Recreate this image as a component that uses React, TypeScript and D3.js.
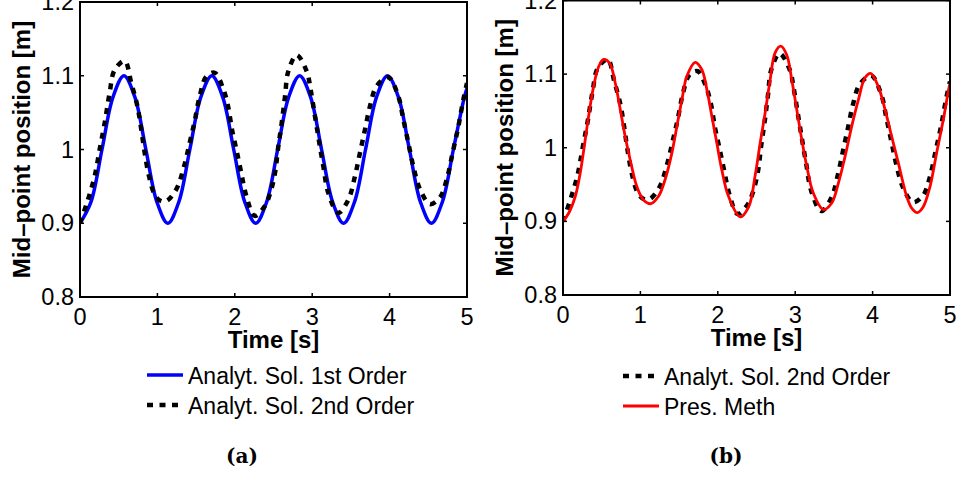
import React from "react";
import * as d3 from "d3";

// ---------- data ----------
const xTicks = [0, 1, 2, 3, 4, 5];
const yTicks = [0.8, 0.9, 1.0, 1.1, 1.2];
const yTickLabels = ["0.8", "0.9", "1", "1.1", "1.2"];

const firstOrderT = [0, 0.142, 0.284, 0.426, 0.568, 0.709, 0.851, 0.993, 1.135, 1.277, 1.419, 1.561, 1.703, 1.844, 1.986, 2.128, 2.27, 2.412, 2.554, 2.696, 2.838, 2.979, 3.121, 3.263, 3.405, 3.547, 3.689, 3.831, 3.973, 4.114, 4.256, 4.398, 4.54, 4.682, 4.824, 4.966, 5.0];
const firstOrderV = [0.9, 0.929, 1.0, 1.071, 1.1, 1.071, 1.0, 0.929, 0.9, 0.929, 1.0, 1.071, 1.1, 1.071, 1.0, 0.929, 0.9, 0.929, 1.0, 1.071, 1.1, 1.071, 1.0, 0.929, 0.9, 0.929, 1.0, 1.071, 1.1, 1.071, 1.0, 0.929, 0.9, 0.929, 1.0, 1.071, 1.083];

const secondOrderT = [0, 0.103, 0.19, 0.254, 0.319, 0.383, 0.448, 0.577, 0.663, 0.741, 0.792, 0.835, 0.891, 0.956, 1.03, 1.115, 1.244, 1.344, 1.417, 1.481, 1.546, 1.632, 1.74, 1.848, 1.912, 1.964, 2.02, 2.084, 2.149, 2.257, 2.386, 2.455, 2.519, 2.562, 2.606, 2.649, 2.691, 2.8, 2.929, 2.98, 3.036, 3.092, 3.144, 3.208, 3.337, 3.467, 3.553, 3.618, 3.682, 3.747, 3.833, 3.983, 4.113, 4.177, 4.242, 4.307, 4.393, 4.522, 4.651, 4.737, 4.815, 4.888, 4.953, 5.0];
const secondOrderV = [0.9, 0.932, 0.964, 1.0, 1.036, 1.077, 1.108, 1.12, 1.09, 1.059, 1.027, 0.996, 0.964, 0.941, 0.931, 0.93, 0.946, 0.977, 1.009, 1.038, 1.072, 1.099, 1.104, 1.083, 1.059, 1.027, 1.0, 0.968, 0.937, 0.91, 0.923, 0.94, 0.968, 1.004, 1.036, 1.072, 1.106, 1.128, 1.106, 1.081, 1.045, 1.009, 0.977, 0.941, 0.914, 0.932, 0.964, 0.996, 1.027, 1.059, 1.086, 1.098, 1.072, 1.041, 1.009, 0.977, 0.946, 0.926, 0.935, 0.959, 0.996, 1.031, 1.068, 1.09];

const presMethT = [0, 0.073, 0.159, 0.223, 0.275, 0.331, 0.395, 0.46, 0.524, 0.602, 0.675, 0.74, 0.804, 0.878, 0.955, 1.04, 1.135, 1.234, 1.32, 1.407, 1.471, 1.536, 1.6, 1.708, 1.794, 1.859, 1.923, 1.988, 2.052, 2.138, 2.289, 2.4, 2.482, 2.547, 2.611, 2.676, 2.74, 2.814, 2.891, 2.956, 3.02, 3.085, 3.149, 3.235, 3.364, 3.472, 3.558, 3.644, 3.73, 3.816, 3.902, 3.975, 4.074, 4.16, 4.247, 4.333, 4.406, 4.44, 4.505, 4.577, 4.655, 4.741, 4.827, 4.913, 4.986, 5.0];
const presMethV = [0.9, 0.911, 0.934, 0.966, 1.002, 1.043, 1.083, 1.11, 1.12, 1.115, 1.088, 1.052, 1.015, 0.979, 0.947, 0.929, 0.924, 0.934, 0.957, 0.993, 1.029, 1.065, 1.097, 1.116, 1.106, 1.079, 1.043, 1.006, 0.97, 0.934, 0.906, 0.92, 0.962, 1.006, 1.047, 1.092, 1.129, 1.138, 1.126, 1.092, 1.052, 1.011, 0.975, 0.938, 0.916, 0.925, 0.952, 0.988, 1.029, 1.065, 1.095, 1.101, 1.083, 1.052, 1.015, 0.979, 0.947, 0.934, 0.918, 0.912, 0.92, 0.947, 0.993, 1.038, 1.081, 1.087];

const legendA = ["Analyt. Sol. 1st Order", "Analyt. Sol. 2nd Order"];
const legendB = ["Analyt. Sol. 2nd Order", "Pres. Meth"];
const xLabel = "Time [s]";
const yLabel = "Mid\u2013point position [m]";

// ---------- styling ----------
const FONT = "'Liberation Sans', Arial, sans-serif";
const SERIF = "'DejaVu Serif', serif";
const DOT = "6 6.5";

type Series = { t: number[]; v: number[]; color: string; width: number; dash?: string };

function Panel(props: {
  id: string;
  x0: number; x1: number; y0: number; y1: number;
  series: Series[];
  legend: string[];
  legendX: number; legendY: number[];
  labelX: number; xLabelY: number;
  caption: string; captionX: number;
}) {
  const { id, x0, x1, y0, y1, series } = props;
  const x = d3.scaleLinear().domain([0, 5]).range([x0, x1]);
  const y = d3.scaleLinear().domain([0.8, 1.2]).range([y1, y0]);
  const line = d3
    .line<[number, number]>()
    .x((d) => x(d[0]))
    .y((d) => y(d[1]))
    .curve(d3.curveCatmullRom.alpha(0.5));
  const tick = 4;
  const yMid = (y0 + y1) / 2;
  return (
    <g>
      <defs>
        <clipPath id={id}>
          <rect x={x0} y={y0} width={x1 - x0} height={y1 - y0} />
        </clipPath>
      </defs>
      <g clipPath={`url(#${id})`}>
        {series.map((s, i) => (
          <path
            key={i}
            d={line(s.t.map((t, k) => [t, s.v[k]] as [number, number])) || ""}
            fill="none"
            stroke={s.color}
            strokeWidth={s.width}
            strokeDasharray={s.dash}
            strokeLinejoin="round"
          />
        ))}
      </g>
      {xTicks.map((t) => (
        <g key={"xt" + t}>
          <line x1={x(t)} x2={x(t)} y1={y1} y2={y1 - tick} stroke="#000" strokeWidth={1.5} />
          <line x1={x(t)} x2={x(t)} y1={y0} y2={y0 + tick} stroke="#000" strokeWidth={1.5} />
          <text x={x(t)} y={y1 + 28} textAnchor="middle" fontFamily={FONT} fontSize={23.5}>
            {String(t)}
          </text>
        </g>
      ))}
      {yTicks.map((v, i) => (
        <g key={"yt" + v}>
          <line x1={x0} x2={x0 + tick} y1={y(v)} y2={y(v)} stroke="#000" strokeWidth={1.5} />
          <line x1={x1} x2={x1 - tick} y1={y(v)} y2={y(v)} stroke="#000" strokeWidth={1.5} />
          <text x={x0 - 6} y={y(v) + 8} textAnchor="end" fontFamily={FONT} fontSize={23.5}>
            {yTickLabels[i]}
          </text>
        </g>
      ))}
      <rect x={x0} y={y0} width={x1 - x0} height={y1 - y0} fill="none" stroke="#000" strokeWidth={2} />
      <text x={(x0 + x1) / 2} y={props.xLabelY} textAnchor="middle" fontFamily={FONT} fontWeight="bold" fontSize={24}>
        {xLabel}
      </text>
      <text
        transform={`translate(${props.labelX},${yMid}) rotate(-90)`}
        textAnchor="middle"
        fontFamily={FONT}
        fontWeight="bold"
        fontSize={24}
      >
        {yLabel}
      </text>
      {props.legend.map((lab, i) => {
        const s = series[i];
        const ly = props.legendY[i];
        return (
          <g key={"lg" + i}>
            <line
              x1={props.legendX}
              x2={props.legendX + 36}
              y1={ly}
              y2={ly}
              stroke={s.color}
              strokeWidth={s.width}
              strokeDasharray={s.dash}
            />
            <text x={props.legendX + 41} y={ly + 8.5} fontFamily={FONT} fontSize={23}>
              {lab}
            </text>
          </g>
        );
      })}
      <text x={props.captionX} y={463} textAnchor="middle" fontFamily={SERIF} fontWeight="bold" fontSize={20}>
        {props.caption}
      </text>
    </g>
  );
}

export default function App() {
  const blue: Series = { t: firstOrderT, v: firstOrderV, color: "#0000ff", width: 3.5 };
  const dotted: Series = { t: secondOrderT, v: secondOrderV, color: "#000000", width: 4.5, dash: DOT };
  const red: Series = { t: presMethT, v: presMethV, color: "#ff0000", width: 2.8 };
  return (
    <svg
      width={960}
      height={477}
      viewBox="0 0 960 477"
      style={{ position: "absolute", left: 0, top: 0, background: "#fff" }}
    >
      <rect x={0} y={0} width={960} height={477} fill="#fff" />
      <Panel
        id="clipA"
        x0={80} x1={467} y0={2} y1={297}
        series={[blue, dotted]}
        legend={legendA}
        legendX={147} legendY={[375, 405]}
        labelX={29.5} xLabelY={348}
        caption="(a)" captionX={242}
      />
      <Panel
        id="clipB"
        x0={563} x1={950} y0={0.5} y1={295}
        series={[dotted, red]}
        legend={legendB}
        legendX={623} legendY={[376, 406]}
        labelX={513} xLabelY={346}
        caption="(b)" captionX={726}
      />
    </svg>
  );
}
